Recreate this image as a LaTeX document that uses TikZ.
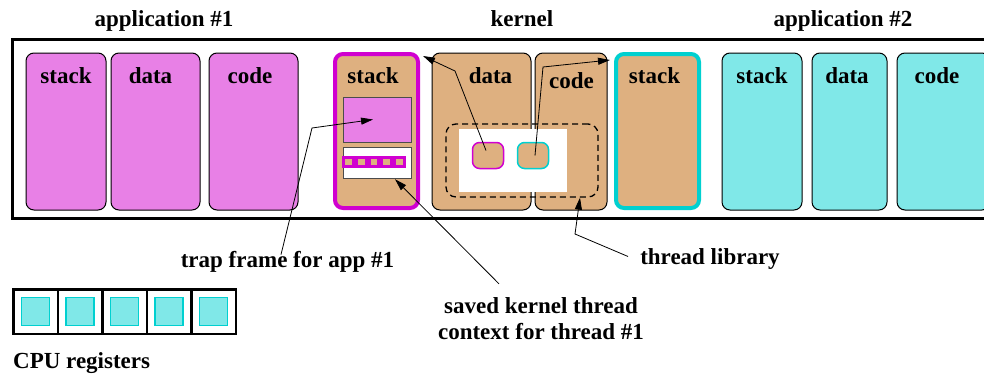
\documentclass[tikz,border=0pt]{standalone}
\usepackage{fontspec}
\setmainfont{Liberation Serif}[BoldFont={Liberation Serif Bold}]
\usetikzlibrary{arrows.meta}
\usetikzlibrary{calc}
\definecolor{AppPink}{RGB}{232,128,230}
\definecolor{AppMagenta}{RGB}{208,0,208}
\definecolor{AppCyan}{RGB}{128,232,232}
\definecolor{CyanEdge}{RGB}{0,208,208}
\definecolor{KernTan}{RGB}{222,176,128}
\tikzstyle{Seg}=[rectangle, rounded corners=8pt, draw=black, line width=1pt, inner sep=0pt, minimum height=157pt]
\tikzstyle{AppOneSeg}=[Seg, fill=AppPink]
\tikzstyle{AppTwoSeg}=[Seg, fill=AppCyan]
\tikzstyle{KernSeg}=[Seg, fill=KernTan]
\tikzstyle{KStackOne}=[KernSeg, draw=AppMagenta, line width=4pt, minimum height=154pt, minimum width=83pt]
\tikzstyle{KStackTwo}=[KStackOne, draw=CyanEdge]
\tikzstyle{Lbl}=[font=\fontsize{23}{26}\selectfont\bfseries, anchor=base, inner sep=0pt]
\tikzstyle{CtxCell}=[rectangle, draw=AppMagenta, line width=3pt, fill=KernTan, inner sep=0pt, minimum width=9.7pt, minimum height=9pt]
\tikzstyle{ThrCtl}=[rectangle, rounded corners=7pt, fill=KernTan, line width=1.5pt, inner sep=0pt, minimum width=31pt, minimum height=26pt]
\tikzstyle{RegCell}=[rectangle, draw=black, line width=2.5pt, fill=white, inner sep=0pt, minimum size=44.5pt]
\tikzstyle{RegVal}=[rectangle, draw=CyanEdge, line width=1.5pt, fill=AppCyan, inner sep=0pt, minimum size=28pt]
\tikzstyle{Ptr}=[-{Triangle[length=12pt,width=7pt]}, line width=0.8pt]

\begin{document}
\begin{tikzpicture}[x=1pt,y=-1pt]
\clip (0,0) rectangle (984,380);

\node[Lbl](AppOneTitle) at (164,26) {application \#1};
\node[Lbl](KernTitle) at (522,26) {kernel};
\node[Lbl](AppTwoTitle) at (843,26) {application \#2};

\node[rectangle, draw=black, line width=3pt, inner sep=0pt, minimum width=988pt, minimum height=179pt](Memory) at (506,128.5) {};

\node[AppOneSeg, minimum width=80pt](AStackA) at (66,131.5) {};
\node[AppOneSeg, minimum width=89pt](ADataA) at (155.5,131.5) {};
\node[AppOneSeg, minimum width=89pt](ACodeA) at (253.5,131.5) {};
\node[KStackOne](KStkA) at (376.5,131) {};
\node[KernSeg, minimum width=99pt](KData) at (481.5,131.5) {};
\node[KernSeg, minimum width=72pt](KCode) at (571,131.5) {};
\node[KStackTwo](KStkB) at (657.5,131) {};
\node[AppTwoSeg, minimum width=80pt](AStackB) at (762,131.5) {};
\node[AppTwoSeg, minimum width=75pt](ADataB) at (849.5,131.5) {};
\node[AppTwoSeg, minimum width=93pt](ACodeB) at (943.5,131.5) {};

\node[Lbl](AStackAText) at (66,83) {stack};
\node[Lbl](ADataAText) at (150.5,83) {data};
\node[Lbl](ACodeAText) at (250,83) {code};
\node[Lbl](KStkAText) at (373,83) {stack};
\node[Lbl](KDataText) at (490.5,83) {data};
\node[Lbl](KCodeText) at (571.5,88) {code};
\node[Lbl](KStkBText) at (654.5,83) {stack};
\node[Lbl](AStackBText) at (762,83) {stack};
\node[Lbl](ADataBText) at (847,83) {data};
\node[Lbl](ACodeBText) at (937,83) {code};

\node[rectangle, draw=black!70, fill=AppPink, inner sep=0pt, minimum width=68pt, minimum height=45pt](TrapFrame) at (377,119.5) {};
\node[rectangle, draw=black!70, fill=white, inner sep=0pt, minimum width=68pt, minimum height=31pt](SavedCtx) at (377,162.5) {};
\foreach \i in {0,...,4}
  \node[CtxCell](Ctx\i) at (348.7+12.7*\i,161.7) {};

\node[rectangle, draw=black, dash pattern=on 6pt off 4pt, rounded corners=10pt, line width=1.3pt, inner sep=0pt, minimum width=152pt, minimum height=73pt](ThrLib) at (522,160.5) {};
\node[rectangle, fill=white, inner sep=0pt, minimum width=108pt, minimum height=63pt](ThrPool) at (513,160.5) {};
\node[ThrCtl, draw=AppMagenta](ThrA) at (488,155.5) {};
\node[ThrCtl, draw=CyanEdge](ThrB) at (533,155.5) {};

\foreach \i in {0,...,4}{
  \node[RegCell](Reg\i) at (35.5+44.5*\i,311.5) {};
  \node[RegVal](RegV\i) at (Reg\i) {};
}

\node[Lbl](TrapLbl) at (287.5,267) {trap frame for app \#1};
\node[Lbl](ThrLbl) at (710,264) {thread library};
\node[Lbl](SavedLblA) at (541,313) {saved kernel thread};
\node[Lbl](SavedLblB) at (541,339) {context for thread \#1};
\node[Lbl, anchor=base west](CpuLbl) at (13,368) {CPU registers};

\draw[Ptr]($(ThrA.center)+(-2,-5)$) -- (455,71) -- ($(KStkA.north east)+(3,4)$);
\draw[Ptr]($(ThrB.center)+(2,0)$) -- (543,67) -- ($(KStkB.north west)+(-4,8)$);
\draw[Ptr]($(TrapLbl.north)+(-6.5,4)$) -- (312,128) -- ($(TrapFrame.center)+(-4,0)$);
\draw[Ptr]($(SavedLblA.north)+(-42,-13)$) -- ($(SavedCtx.south)+(18,1)$);
\draw[Ptr]($(ThrLbl.west)+(-12,-2)$) -- (575,234) -- ($(ThrLib.south)+(58,0)$);
\end{tikzpicture}
\end{document}
